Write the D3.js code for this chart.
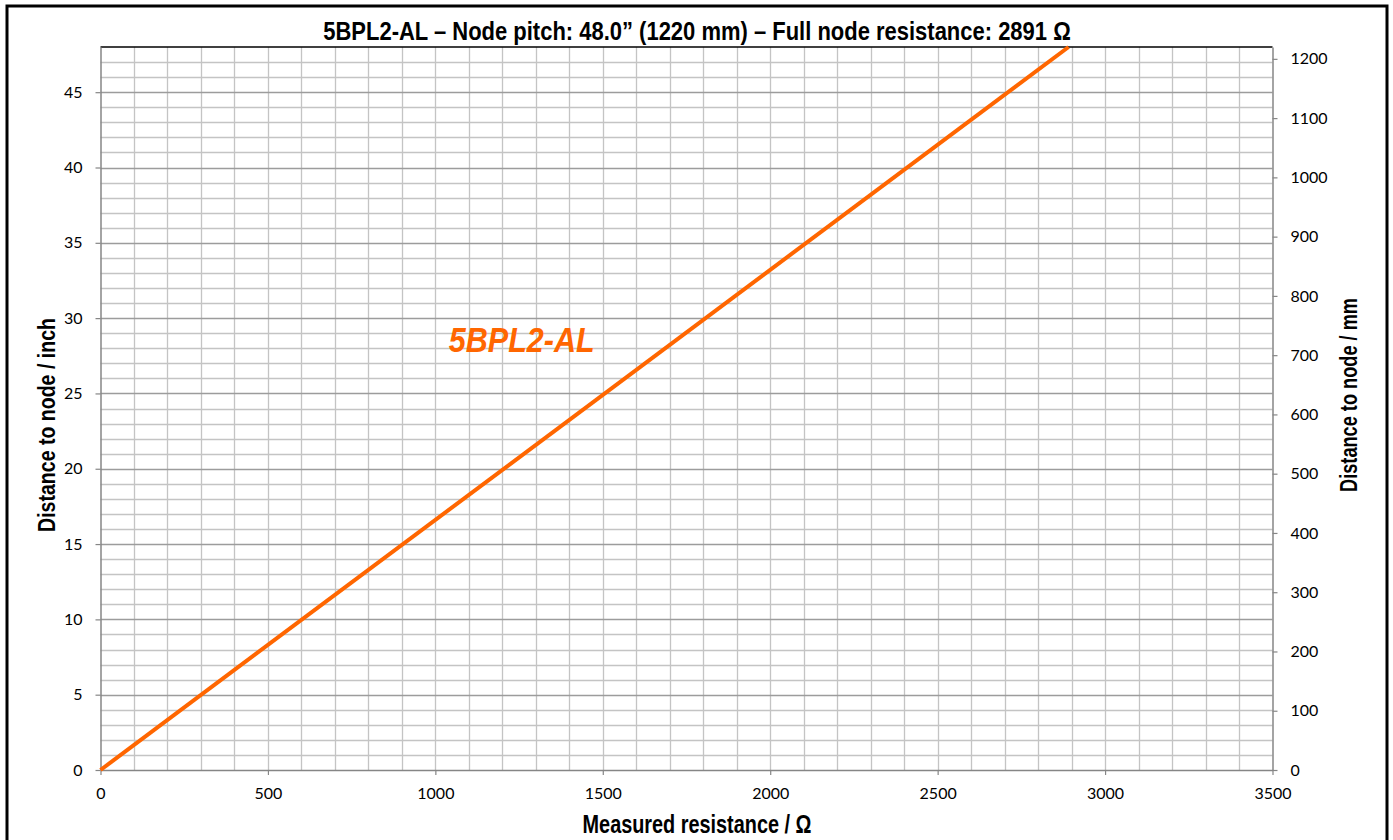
<!DOCTYPE html>
<html>
<head>
<meta charset="utf-8">
<script src="https://cdn.jsdelivr.net/npm/d3@7"></script>
<style>
  html, body { margin: 0; padding: 0; background: #fff; }
  svg { display: block; }
  .narrow { font-family: "Liberation Sans", Arial, sans-serif; font-weight: bold; }
  .tick text { font-family: Lato, "Open Sans", sans-serif; font-size: 16px; fill: #000; }
</style>
</head>
<body>
<svg id="chart" width="1393" height="840"></svg>
<script>
// Cable: resistance measured vs distance to node
const cableName = "5BPL2-AL";
const nodePitchInch = 48.0;
const nodePitchMm = 1220;
const fullNodeResistance = 2891;

// Line end points (Ω, inch)
const resistance = [0, 2891];
const distanceInch = [0, 48];

// Axis ranges and tick values
const xDomain = [0, 3500];
const xTicks = [0, 500, 1000, 1500, 2000, 2500, 3000, 3500];
const xGrid = d3.range(0, 3501, 100);
const yInchDomain = [0, 48];
const yInchTicks = [0, 5, 10, 15, 20, 25, 30, 35, 40, 45];
const yInchGrid = d3.range(0, 49, 1);
const yMmDomain = [0, 1220];
const yMmTicks = [0, 100, 200, 300, 400, 500, 600, 700, 800, 900, 1000, 1100, 1200];

// Label position (Ω, inch)
const labelAt = [1040, 27.75];

const svg = d3.select("#chart");
const plot = { left: 100.5, right: 1272.5, top: 47, bottom: 770 };

const x = d3.scaleLinear().domain(xDomain).range([plot.left, plot.right]);
const yIn = d3.scaleLinear().domain(yInchDomain).range([plot.bottom, plot.top]);
const yMm = d3.scaleLinear().domain(yMmDomain).range([plot.bottom, plot.top]);

// Condensed bold text: draw with a horizontal squeeze so it fits a given width
function narrowText(parent, str, size, width, cx, cy, rotate, extra) {
  const g = parent.append("g").attr("transform", `translate(${cx},${cy}) rotate(${rotate || 0})`);
  const t = g.append("text").attr("class", "narrow")
    .attr("font-size", size).attr("text-anchor", "middle").text(str);
  if (extra) extra(t);
  const w = t.node().getComputedTextLength();
  t.attr("transform", `scale(${width / w},1)`);
  return t;
}

// outer frame (open at the bottom)
svg.append("path")
  .attr("d", `M7,900 V6 H1387 V900`)
  .attr("fill", "none").attr("stroke", "#000").attr("stroke-width", 3);

// grid
const grid = svg.append("g");
grid.selectAll("line.v").data(xGrid.filter(d => d > 0 && d < 3500)).join("line")
  .attr("x1", d => Math.round(x(d)) + 0.5).attr("x2", d => Math.round(x(d)) + 0.5)
  .attr("y1", plot.top).attr("y2", plot.bottom)
  .attr("stroke", "#c4c4c4").attr("stroke-width", 1.3);
grid.selectAll("line.h").data(yInchGrid.filter(d => d > 0 && d < 48)).join("line")
  .attr("y1", d => Math.round(yIn(d)) + 0.5).attr("y2", d => Math.round(yIn(d)) + 0.5)
  .attr("x1", plot.left).attr("x2", plot.right)
  .attr("stroke", d => d % 5 === 0 ? "#9c9c9c" : "#c4c4c4")
  .attr("stroke-width", 1.3);

// top border of plot area
svg.append("line")
  .attr("x1", plot.left).attr("x2", plot.right)
  .attr("y1", plot.top).attr("y2", plot.top)
  .attr("stroke", "#000").attr("stroke-width", 1.5);

// axes
function styleAxis(g) {
  g.selectAll(".domain").attr("stroke", "#868686").attr("stroke-width", 1.5);
  g.selectAll(".tick line").attr("stroke", "#868686").attr("stroke-width", 1.2);
}
svg.append("g")
  .attr("transform", `translate(0,${plot.bottom})`)
  .call(d3.axisBottom(x).tickValues(xTicks).tickSize(5).tickSizeOuter(0).tickPadding(13).tickFormat(d3.format("d")))
  .call(styleAxis);
svg.append("g")
  .attr("transform", `translate(${plot.left},0)`)
  .call(d3.axisLeft(yIn).tickValues(yInchTicks).tickSize(5).tickSizeOuter(0).tickPadding(13).tickFormat(d3.format("d")))
  .call(styleAxis);
svg.append("g")
  .attr("transform", `translate(${plot.right},0)`)
  .call(d3.axisRight(yMm).tickValues(yMmTicks).tickSize(5).tickSizeOuter(0).tickPadding(13).tickFormat(d3.format("d")))
  .call(styleAxis);

// data line
const line = d3.line().x(d => x(d[0])).y(d => yIn(d[1]));
svg.append("path")
  .datum(d3.zip(resistance, distanceInch))
  .attr("d", line)
  .attr("fill", "none").attr("stroke", "#ff6600").attr("stroke-width", 4);

// series label
{
  const g = svg.append("g").attr("transform", `translate(${x(labelAt[0])},${yIn(labelAt[1])})`);
  const t = g.append("text").attr("class", "narrow")
    .attr("font-size", 36).attr("font-style", "italic").attr("fill", "#ff6600")
    .text(cableName);
  t.attr("transform", `scale(${146 / t.node().getComputedTextLength()},1)`);
}

// title
narrowText(svg,
  `${cableName} – Node pitch: ${nodePitchInch.toFixed(1)}” (${nodePitchMm} mm) – Full node resistance: ${fullNodeResistance} Ω`,
  26, 748, 697, 40);

// axis titles
narrowText(svg, "Measured resistance / Ω", 25, 229, 697, 833);
narrowText(svg, "Distance to node / inch", 24, 214, 55, 425, -90);
narrowText(svg, "Distance to node / mm", 24, 194, 1357, 395, -90);
</script>
</body>
</html>
